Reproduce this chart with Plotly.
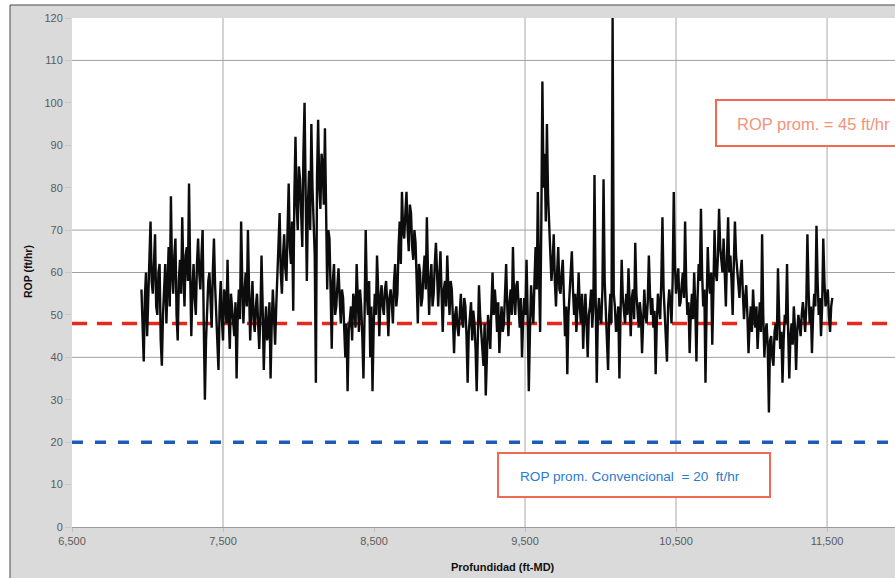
import numpy as np
import plotly.graph_objects as go

# ---- data ----
depth_start = 6960
depth_step = 7.5
rop = [
    56, 47, 39, 54, 60, 45, 52, 63, 72, 58, 55, 64, 69, 52, 50, 60, 62, 44, 38, 50,
    58, 62, 48, 57, 66, 52, 78, 60, 55, 64, 68, 50, 44, 58, 63, 55, 73, 60, 52, 64,
    66, 58, 81, 60, 45, 56, 62, 54, 50, 62, 68, 60, 56, 64, 70, 48, 30, 44, 52, 58,
    60, 54, 47, 60, 68, 57, 50, 46, 37, 52, 58, 49, 44, 56, 54, 48, 63, 50, 42, 55,
    52, 48, 45, 53, 35, 50, 56, 49, 72, 58, 48, 55, 60, 52, 70, 56, 44, 52, 58, 49,
    46, 52, 55, 48, 42, 50, 64, 52, 37, 47, 52, 44, 46, 53, 35, 48, 56, 50, 43, 52,
    60, 66, 74, 60, 55, 64, 69, 61, 58, 70, 81, 66, 62, 72, 51, 78, 92, 76, 70, 85,
    82, 74, 66, 88, 100, 78, 58, 76, 84, 70, 95, 80, 72, 64, 34, 82, 96, 80, 75, 88,
    85, 76, 94, 72, 56, 70, 68, 56, 42, 58, 62, 50, 52, 57, 61, 54, 48, 56, 54, 47,
    40, 48, 32, 46, 50, 52, 44, 55, 53, 47, 62, 54, 46, 56, 52, 45, 35, 50, 70, 55,
    50, 58, 40, 52, 32, 47, 55, 50, 64, 56, 45, 54, 57, 52, 50, 56, 58, 53, 45, 54,
    56, 53, 48, 58, 62, 52, 55, 66, 72, 62, 79, 70, 68, 74, 79, 70, 65, 76, 74, 66,
    63, 70, 67, 58, 48, 62, 60, 52, 54, 60, 64, 56, 73, 60, 50, 58, 62, 52, 55, 62,
    67, 60, 52, 59, 65, 55, 46, 56, 58, 52, 64, 56, 50, 58, 56, 49, 41, 50, 52, 47,
    45, 50, 55, 49, 47, 54, 52, 45, 34, 46, 50, 53, 44, 51, 48, 42, 32, 48, 57, 50,
    46, 44, 38, 48, 31, 40, 50, 47, 42, 52, 60, 50, 56, 52, 46, 53, 41, 48, 52, 46,
    48, 55, 62, 52, 45, 53, 56, 50, 66, 54, 50, 57, 58, 52, 47, 54, 40, 49, 54, 50,
    63, 50, 32, 46, 57, 52, 48, 58, 66, 56, 79, 60, 46, 70, 105, 80, 88, 72, 95, 78,
    72, 64, 58, 62, 69, 58, 52, 60, 66, 56, 55, 60, 63, 54, 45, 52, 36, 50, 56, 58,
    65, 56, 50, 55, 46, 52, 60, 52, 48, 55, 42, 50, 55, 48, 40, 50, 52, 56, 47, 52,
    83, 55, 34, 50, 54, 49, 48, 56, 82, 58, 50, 47, 37, 50, 55, 48, 120, 55, 52, 46,
    48, 52, 35, 50, 63, 54, 50, 48, 55, 50, 61, 52, 45, 54, 56, 49, 67, 55, 50, 47,
    53, 50, 41, 52, 56, 50, 48, 53, 64, 55, 50, 54, 47, 51, 36, 48, 55, 52, 49, 58,
    73, 56, 50, 47, 39, 52, 56, 53, 48, 58, 79, 62, 55, 58, 61, 52, 53, 57, 60, 54,
    72, 57, 50, 53, 41, 50, 55, 49, 60, 52, 39, 54, 62, 58, 75, 60, 52, 56, 34, 52,
    66, 58, 55, 60, 43, 56, 70, 60, 58, 64, 75, 66, 62, 60, 68, 58, 52, 64, 73, 60,
    64, 58, 50, 62, 72, 64, 60, 56, 54, 60, 63, 55, 49, 54, 57, 50, 41, 48, 52, 46,
    56, 50, 47, 52, 42, 48, 53, 46, 69, 50, 40, 46, 48, 42, 27, 44, 45, 40, 38, 46,
    48, 44, 61, 50, 42, 46, 34, 44, 50, 48, 62, 46, 35, 45, 48, 43, 52, 47, 37, 46,
    50, 48, 45, 50, 53, 50, 46, 52, 69, 56, 48, 52, 41, 50, 55, 52, 71, 58, 50, 54,
    45, 52, 68, 58, 52, 54, 56, 50, 46, 52, 54,
]
depth = depth_start + depth_step * np.arange(len(rop))

rop_avg = 48          # drawn level of "ROP prom." line
rop_conv = 20         # "ROP prom. Convencional"
x_range = [6500, 11950]
y_range = [0, 120]
x_ticks = [6500, 7500, 8500, 9500, 10500, 11500]
x_ticklabels = ["6,500", "7,500", "8,500", "9,500", "10,500", "11,500"]
y_ticks = list(range(0, 121, 10))
x_grid = [7500, 9500, 10500, 11500]
y_grid = [40, 60, 70, 110]

label_avg = "ROP prom. = 45 ft/hr"
label_conv = "ROP prom. Convencional  = 20  ft/hr"

FONT = "Liberation Sans, Arial, sans-serif"

fig = go.Figure()

fig.add_trace(go.Scatter(
    x=x_range, y=[rop_avg, rop_avg], mode="lines",
    line=dict(color="#e8281c", width=3.5, dash="15px,10px"),
    hoverinfo="skip", showlegend=False))
fig.add_trace(go.Scatter(
    x=x_range, y=[rop_conv, rop_conv], mode="lines",
    line=dict(color="#1d5cb5", width=3.5, dash="11px,12px"),
    hoverinfo="skip", showlegend=False))
fig.add_trace(go.Scatter(
    x=depth, y=rop, mode="lines",
    line=dict(color="#0c0c0c", width=2.4),
    showlegend=False))

# plot-area geometry (pixels) for the decorative frame
W, H = 895, 578
ml, mr, mt, mb = 72, 0, 18, 51
pw, ph = W - ml - mr, H - mt - mb

def px(x):
    return (x - ml) / pw

def py(y):
    return (H - mb - y) / ph

shapes = [
    dict(type="rect", xref="paper", yref="paper", layer="below",
         x0=px(10), x1=px(W + 20), y0=py(H + 20), y1=py(5),
         fillcolor="#dadada", line=dict(color="#4a4a4a", width=1)),
    dict(type="rect", xref="paper", yref="paper", layer="below",
         x0=0, x1=1.2, y0=0, y1=1,
         fillcolor="#ffffff", line=dict(width=0)),
]
for gx in x_grid:
    shapes.append(dict(type="line", xref="x", yref="paper", layer="below",
                       x0=gx, x1=gx, y0=0, y1=1,
                       line=dict(color="#a8a8a8", width=1)))
for gy in y_grid:
    shapes.append(dict(type="line", xref="paper", yref="y", layer="below",
                       x0=0, x1=1, y0=gy, y1=gy,
                       line=dict(color="#a0a0a0", width=1)))
# annotation boxes
shapes.append(dict(type="rect", xref="paper", yref="paper",
                   x0=px(716), x1=px(W + 30), y0=py(146), y1=py(100),
                   fillcolor="#ffffff", line=dict(color="#ef6a50", width=2)))
shapes.append(dict(type="rect", xref="paper", yref="paper",
                   x0=px(498), x1=px(770), y0=py(497), y1=py(453),
                   fillcolor="#ffffff", line=dict(color="#ef6a50", width=2)))

annotations = [
    dict(text=label_avg, xref="paper", yref="paper", x=px(735), y=py(124),
         xanchor="left", yanchor="middle", showarrow=False,
         font=dict(family=FONT, size=16.5, color="#f2937b")),
    dict(text=label_conv, xref="paper", yref="paper", x=px(518), y=py(476),
         xanchor="left", yanchor="middle", showarrow=False,
         font=dict(family=FONT, size=13.6, color="#2a7bd0")),
    dict(text="<b>Profundidad (ft-MD)</b>", xref="paper", yref="paper",
         x=px(503), y=py(567), xanchor="center", yanchor="middle",
         showarrow=False, font=dict(family=FONT, size=11, color="#111")),
    dict(text="<b>ROP (ft/hr)</b>", xref="paper", yref="paper",
         x=px(28), y=py(272), xanchor="center", yanchor="middle",
         textangle=-90, showarrow=False,
         font=dict(family=FONT, size=10.5, color="#111")),
]

fig.update_layout(
    width=W, height=H, autosize=False,
    margin=dict(l=ml, r=mr, t=mt, b=mb, pad=0),
    paper_bgcolor="#ffffff", plot_bgcolor="#ffffff",
    shapes=shapes, annotations=annotations,
    font=dict(family=FONT, size=11, color="#5a5a5a"),
)
fig.update_xaxes(
    range=x_range, tickmode="array", tickvals=x_ticks, ticktext=x_ticklabels,
    showgrid=False, zeroline=False, showline=True, linecolor="#9a9a9a",
    linewidth=1, ticks="outside", ticklen=4, tickcolor="#c0c0c0",
    tickfont=dict(family=FONT, size=11, color="#5a5a5a"))
fig.update_yaxes(
    range=y_range, tickmode="array", tickvals=y_ticks,
    showgrid=False, zeroline=False, showline=False,
    ticks="outside", ticklen=6, tickcolor="#c8c8c8",
    tickfont=dict(family=FONT, size=11, color="#5a5a5a"))

fig.write_html("out.html")
